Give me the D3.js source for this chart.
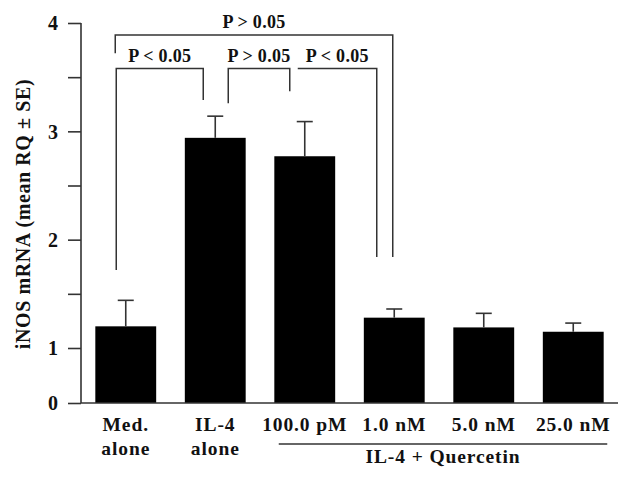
<!DOCTYPE html>
<html>
<head>
<meta charset="utf-8">
<script src="https://cdn.jsdelivr.net/npm/d3@7/dist/d3.min.js"></script>
<style>
  html, body { margin: 0; padding: 0; background: #fff; }
  svg text { font-family: "Liberation Serif", "Times New Roman", serif; font-weight: bold; fill: #111; }
</style>
</head>
<body>
<svg id="chart" width="632" height="481"></svg>
<script>
// ---- data ----
const categories = ["Med. alone", "IL-4 alone", "100.0 pM", "1.0 nM", "5.0 nM", "25.0 nM"];
const categoryLines = [["Med.", "alone"], ["IL-4", "alone"], ["100.0 pM"], ["1.0 nM"], ["5.0 nM"], ["25.0 nM"]];
const meanRQ = [1.20, 2.94, 2.77, 1.28, 1.19, 1.15];
const seRQ = [0.24, 0.20, 0.32, 0.08, 0.13, 0.08];
const majorTicks = [0, 1, 2, 3, 4];
const minorTicks = [1.5, 2.5, 3.5];
const groupLabel = "IL-4 + Quercetin";
const groupMembers = ["100.0 pM", "1.0 nM", "5.0 nM", "25.0 nM"];
const yTitle = "iNOS mRNA (mean RQ \u00B1 SE)";
const comparisonPairs = [["Med. alone", "IL-4 alone"], ["IL-4 alone", "100.0 pM"], ["100.0 pM", "1.0 nM"], ["Med. alone", "1.0 nM"]];
const comparisonLabels = ["P < 0.05", "P > 0.05", "P < 0.05", "P > 0.05"];

// ---- layout ----
const svg = d3.select("#chart");
const axisX = 81, baseY = 403, topY = 23, rightX = 618;
const y = d3.scaleLinear().domain([0, 1, 4]).range([baseY, 348, topY]);
const x = d3.scaleBand().domain(categories).range([axisX, rightX]).paddingInner(0.32).paddingOuter(0.16);
const lineCol = "#333";

// bars
svg.append("g").selectAll("rect").data(categories).join("rect")
  .attr("x", d => x(d)).attr("width", x.bandwidth())
  .attr("y", (d, i) => y(meanRQ[i])).attr("height", (d, i) => baseY - y(meanRQ[i]))
  .attr("fill", "#000");

// error bars
const eb = svg.append("g").attr("stroke", lineCol).attr("stroke-width", 1.6).attr("fill", "none");
categories.forEach((c, i) => {
  const cx = x(c) + x.bandwidth() / 2;
  eb.append("line").attr("x1", cx).attr("x2", cx).attr("y1", y(meanRQ[i])).attr("y2", y(meanRQ[i] + seRQ[i]));
  eb.append("line").attr("x1", cx - 8).attr("x2", cx + 8).attr("y1", y(meanRQ[i] + seRQ[i])).attr("y2", y(meanRQ[i] + seRQ[i]));
});

// y axis
const yAxis = d3.axisLeft(y).tickValues(majorTicks).tickFormat(d3.format("d")).tickSize(13).tickPadding(10);
const gy = svg.append("g").attr("transform", `translate(${axisX},0)`).call(yAxis);
gy.select(".domain").attr("stroke", lineCol).attr("stroke-width", 1.6).attr("d", `M-0,${topY}V${baseY}`);
gy.selectAll(".tick line").attr("stroke", lineCol).attr("stroke-width", 1.6);
gy.selectAll(".tick text").attr("font-size", 20).attr("font-family", "Liberation Serif").attr("font-weight", "bold").attr("fill", "#111").attr("dy", "0.34em");
const gyMinor = svg.append("g").attr("transform", `translate(${axisX},0)`)
  .call(d3.axisLeft(y).tickValues(minorTicks).tickFormat("").tickSize(13));
gyMinor.select(".domain").remove();
gyMinor.selectAll(".tick line").attr("stroke", lineCol).attr("stroke-width", 1.6);

// x axis line
svg.append("line").attr("x1", axisX).attr("x2", rightX).attr("y1", baseY).attr("y2", baseY)
  .attr("stroke", lineCol).attr("stroke-width", 1.6);

// x labels
categories.forEach((c, i) => {
  const cx = x(c) + x.bandwidth() / 2;
  categoryLines[i].forEach((t, j) => {
    svg.append("text").attr("x", cx).attr("y", 431 + j * 24).attr("text-anchor", "middle")
      .attr("font-size", 19.5).attr("letter-spacing", 0.9).text(t);
  });
});

// group underline + label
const gx0 = x(groupMembers[0]) + x.bandwidth() / 2 - 26;
const gx1 = x(groupMembers[groupMembers.length - 1]) + x.bandwidth() / 2 + 34;
svg.append("line").attr("x1", gx0).attr("x2", gx1).attr("y1", 444).attr("y2", 444).attr("stroke", lineCol).attr("stroke-width", 1.4);
svg.append("text").attr("x", (gx0 + gx1) / 2).attr("y", 463).attr("text-anchor", "middle")
  .attr("font-size", 19.5).attr("letter-spacing", 0.9).text(groupLabel);

// y title
svg.append("text").attr("transform", `translate(30,${214}) rotate(-90)`).attr("text-anchor", "middle")
  .attr("font-size", 20).attr("letter-spacing", 0.6).text(yTitle);

// significance brackets (geometry in value units relative to the y scale)
const cxOf = c => x(c) + x.bandwidth() / 2;
const br = svg.append("g").attr("stroke", lineCol).attr("stroke-width", 1.5).attr("fill", "none");
const brText = svg.append("g");
// [left offset, right offset, top level, left leg end, right leg end, label baseline]
const brGeom = [
  [-9.5, -12, 3.58, 1.72, 3.29, 62],
  [13, -15, 3.58, 3.26, 3.37, 62],
  [-7, -17.5, 3.58, null, 1.84, 62],
  [-10.5, -1.5, 3.89, 3.72, 1.84, 28]
];
comparisonPairs.forEach((p, i) => {
  const g = brGeom[i];
  const xl = cxOf(p[0]) + g[0], xr = cxOf(p[1]) + g[1], yt = y(g[2]);
  let d = g[3] === null ? `M${xl},${yt}` : `M${xl},${y(g[3])}V${yt}`;
  d += `H${xr}V${y(g[4])}`;
  br.append("path").attr("d", d);
  brText.append("text").attr("x", (xl + xr) / 2).attr("y", g[5]).attr("text-anchor", "middle")
    .attr("font-size", 18).attr("letter-spacing", 0.3).text(comparisonLabels[i]);
});
</script>
</body>
</html>
